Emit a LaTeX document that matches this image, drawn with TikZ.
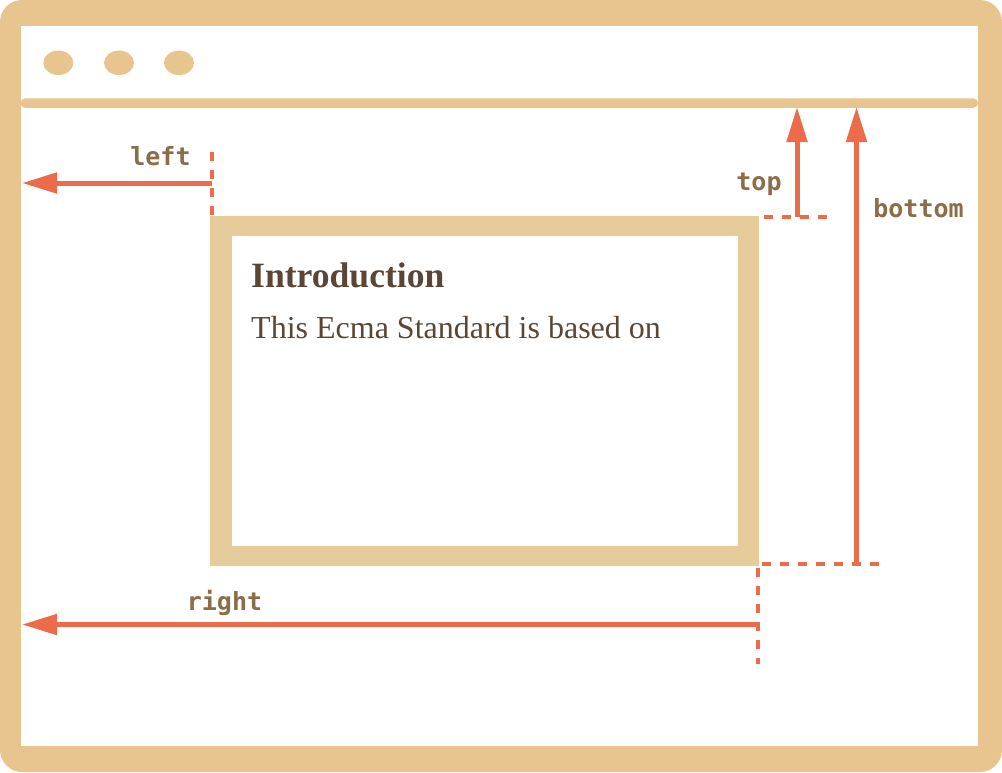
\documentclass[tikz,border=0pt]{standalone}
\usepackage{fontspec}
\setmainfont{Liberation Serif}
\newfontfamily\labelmono{DejaVu Sans Mono}
\usetikzlibrary{arrows.meta}
\definecolor{frametan}{HTML}{E8C48E}
\definecolor{boxtan}{HTML}{E6CB9B}
\definecolor{arrowred}{HTML}{EC6B4B}
\definecolor{labelbrown}{HTML}{8B6D48}
\definecolor{textbrown}{HTML}{5B4636}
\tikzset{
  measure/.style={draw=arrowred, line width=5pt, -{Triangle[length=35pt,width=20pt]}},
  guide/.style={draw=arrowred, line width=4pt, dash pattern=on 9pt off 9pt},
  lbl/.style={text=labelbrown, font=\labelmono\bfseries\fontsize{25}{30}\selectfont, inner sep=0pt, anchor=base},
  dot/.style={fill=frametan, draw=none}
}
\begin{document}
\begin{tikzpicture}[x=1pt,y=-1pt]
\useasboundingbox (0,0) rectangle (1002,772);
% window frame
\fill[frametan, rounded corners=22pt] (0,0) rectangle (1002,772);
\fill[white] (20.5,25.7) rectangle (977.7,746);
% title bar
\fill[frametan, rounded corners=4.7pt] (20.5,98.3) rectangle (978,107.8);
\fill[dot] (58.3,62.8) ellipse [x radius=15, y radius=12.2];
\fill[dot] (119,62.8) ellipse [x radius=15, y radius=12.2];
\fill[dot] (179,62.8) ellipse [x radius=15, y radius=12.2];
% element box
\fill[boxtan] (210,216) rectangle (759,566);
\fill[white] (232,236) rectangle (738,546);
\node[anchor=base west, inner sep=0pt, text=textbrown, font=\bfseries\fontsize{35.6}{40}\selectfont] (title) at (251,287) {Introduction};
\node[anchor=base west, inner sep=0pt, text=textbrown, font=\fontsize{32}{38}\selectfont] (body) at (251,338) {This Ecma Standard is based on};
% coordinates
\coordinate (lefttop) at (212,152);
\coordinate (leftbot) at (212,216);
\coordinate (leftstart) at (212,183);
\coordinate (leftend) at (22,183);
\coordinate (topdashL) at (764,217);
\coordinate (topdashR) at (828,217);
\coordinate (topstart) at (797,217);
\coordinate (topend) at (797,107);
\coordinate (botdashL) at (762,563.5);
\coordinate (botdashR) at (880,563.5);
\coordinate (botstart) at (856.5,563.5);
\coordinate (botend) at (856.5,107);
\coordinate (rdashT) at (758,568);
\coordinate (rdashB) at (758,664);
\coordinate (rightstart) at (758,624.5);
\coordinate (rightend) at (22,624.5);
% guides
\draw[guide] (lefttop) -- (leftbot);
\draw[guide] (topdashL) -- (topdashR);
\draw[guide] (botdashL) -- (botdashR);
\draw[guide] (rdashT) -- (rdashB);
% arrows
\draw[measure] (leftstart) -- (leftend);
\draw[measure] (topstart) -- (topend);
\draw[measure] (botstart) -- (botend);
\draw[measure] (rightstart) -- (rightend);
% labels
\node[lbl] (leftlbl) at (160.5,165) {left};
\node[lbl] (toplbl) at (759,190) {top};
\node[lbl] (bottomlbl) at (918.5,217) {bottom};
\node[lbl] (rightlbl) at (224.5,610) {right};
\end{tikzpicture}
\end{document}
